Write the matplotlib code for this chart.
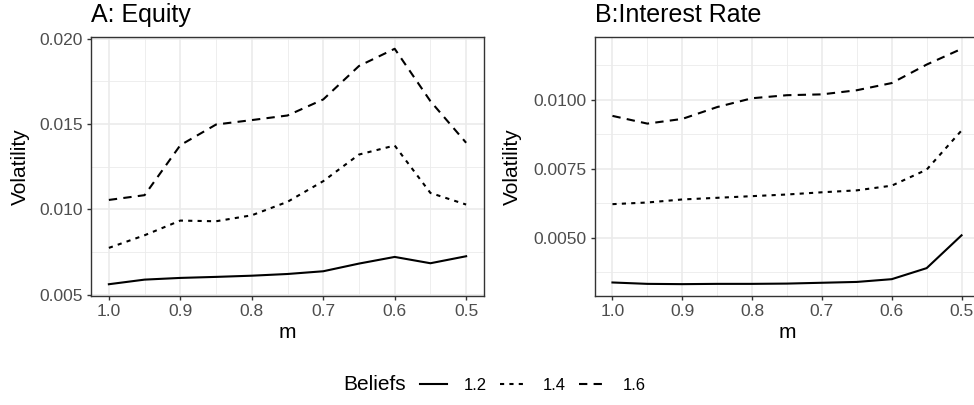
import matplotlib
matplotlib.use("Agg")
import matplotlib.pyplot as plt
from matplotlib.lines import Line2D
from matplotlib.ticker import MultipleLocator

plt.rcParams['font.family'] = ['Liberation Sans', 'DejaVu Sans']

# data
m = [1.0, 0.95, 0.9, 0.85, 0.8, 0.75, 0.7, 0.65, 0.6, 0.55, 0.5]
beliefs = ["1.2", "1.4", "1.6"]

equity_12 = [0.00561, 0.00588, 0.00598, 0.00604, 0.00611, 0.00621, 0.00637, 0.00682, 0.00721, 0.00684, 0.00725]
equity_14 = [0.00774, 0.00848, 0.00934, 0.00930, 0.00965, 0.01044, 0.01165, 0.01321, 0.01374, 0.01096, 0.01028]
equity_16 = [0.01055, 0.01083, 0.01376, 0.01497, 0.01523, 0.01550, 0.01644, 0.01840, 0.01941, 0.01634, 0.01390]

rate_12 = [0.00337, 0.00332, 0.00331, 0.00332, 0.00332, 0.00333, 0.00336, 0.00339, 0.00349, 0.00389, 0.00508]
rate_14 = [0.00621, 0.00627, 0.00638, 0.00644, 0.00650, 0.00656, 0.00664, 0.00671, 0.00688, 0.00746, 0.00888]
rate_16 = [0.00941, 0.00913, 0.00930, 0.00973, 0.01005, 0.01016, 0.01019, 0.01034, 0.01060, 0.01127, 0.01184]

styles = {"1.2": "-", "1.4": (0, (2, 2.5)), "1.6": (0, (4, 3))}

W, H = 974, 405
fig = plt.figure(figsize=(W / 100, H / 100), dpi=100)
fig.patch.set_facecolor("white")


def px_axes(left, right, top, bottom):
    return fig.add_axes([left / W, 1 - bottom / H, (right - left) / W, (bottom - top) / H])


def style_panel(ax, title, yfmt, ymajor, label_x):
    for s in ax.spines.values():
        s.set_color("#333333")
        s.set_linewidth(1.0)
    ax.set_facecolor("white")
    ax.grid(which="major", color="#EBEBEB", lw=1.2)
    ax.grid(which="minor", color="#EBEBEB", lw=0.6)
    ax.set_axisbelow(True)
    ax.set_xlim(1.025, 0.475)
    ax.xaxis.set_major_locator(MultipleLocator(0.1))
    ax.xaxis.set_minor_locator(MultipleLocator(0.05))
    ax.yaxis.set_major_locator(MultipleLocator(ymajor))
    ax.yaxis.set_minor_locator(MultipleLocator(ymajor / 2))
    ax.yaxis.set_major_formatter(lambda v, p: yfmt.format(v))
    ax.xaxis.set_major_formatter(lambda v, p: "{:.1f}".format(v))
    ax.tick_params(which="major", length=3, width=1.0, color="#333333",
                   labelcolor="#4D4D4D", labelsize=12.5, pad=3)
    ax.tick_params(which="minor", length=0)
    ax.set_xlabel("m", fontsize=15, labelpad=3)
    ax.set_ylabel("Volatility", fontsize=15)
    ax.yaxis.set_label_coords(label_x, 0.5)
    ax.set_title(title, loc="left", fontsize=18, pad=10.5)


axA = px_axes(91, 484, 37, 296)
axA.plot(m, equity_12, color="black", lw=1.5, ls=styles["1.2"])
axA.plot(m, equity_14, color="black", lw=1.5, ls=styles["1.4"])
axA.plot(m, equity_16, color="black", lw=1.5, ls=styles["1.6"])
axA.set_ylim(0.00492, 0.02010)
style_panel(axA, "A: Equity", "{:.3f}", 0.005, -0.155)

axB = px_axes(595, 979, 37, 296)
axB.plot(m, rate_12, color="black", lw=1.5, ls=styles["1.2"])
axB.plot(m, rate_14, color="black", lw=1.5, ls=styles["1.4"])
axB.plot(m, rate_16, color="black", lw=1.5, ls=styles["1.6"])
axB.set_ylim(0.00288, 0.01227)
style_panel(axB, "B:Interest Rate", "{:.4f}", 0.0025, -0.19)

# legend at bottom
handles = [Line2D([0], [0], color="black", lw=1.5, ls=styles[b]) for b in beliefs]
fig.text(343 / W, 1 - 385 / H, "Beliefs", fontsize=15, ha="left", va="center")
fig.legend(handles, beliefs, loc="center left", bbox_to_anchor=(420 / W, 1 - 385 / H),
           ncol=3, frameon=False, fontsize=12, handlelength=1.6, handletextpad=1.0,
           columnspacing=0.8, borderpad=0, borderaxespad=0)

fig.savefig("out.png", dpi=100, facecolor="white")
